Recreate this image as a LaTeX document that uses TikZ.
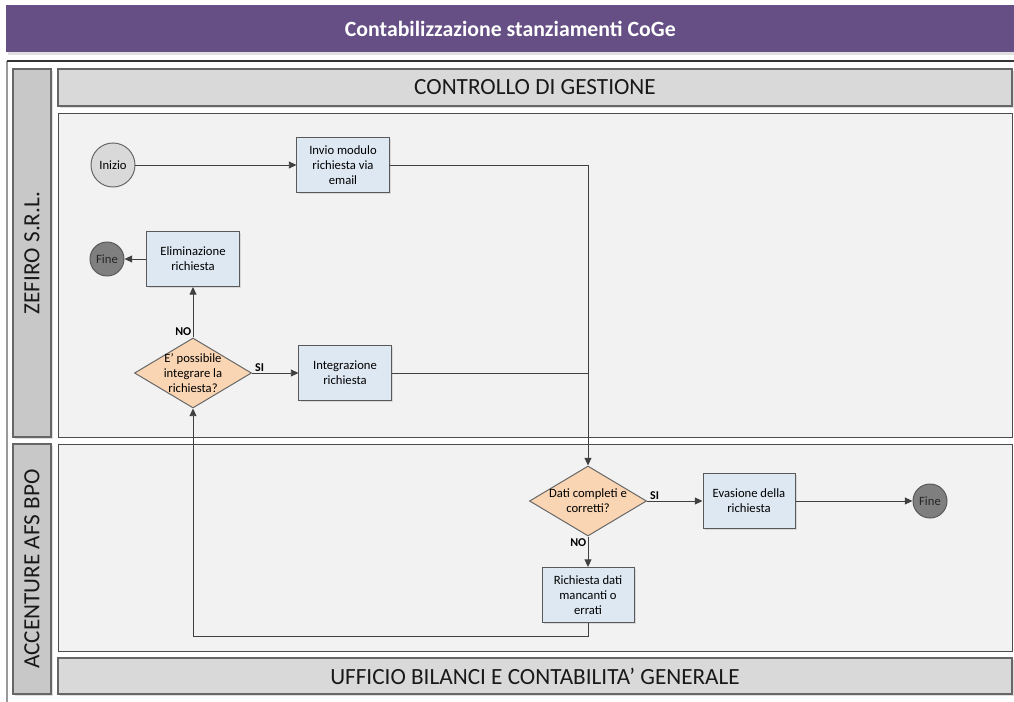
\documentclass[tikz,border=0pt]{standalone}
\usepackage{fontspec}
\setmainfont{Carlito}
\usetikzlibrary{arrows.meta,shapes.geometric,shadows}

\definecolor{titlebar}{HTML}{654F85}
\definecolor{lanehead}{HTML}{C8C8C8}
\definecolor{bandfill}{HTML}{D9D9D9}
\definecolor{lanefill}{HTML}{F2F2F2}
\definecolor{taskfill}{HTML}{DEE8F3}
\definecolor{gatefill}{HTML}{F9D5B4}
\definecolor{endfill}{HTML}{7F7F7F}
\definecolor{linegray}{HTML}{404040}

\begin{document}
\begin{tikzpicture}[x=0.025cm, y=-0.025cm,
    shade box/.style={drop shadow={shadow xshift=1.2pt, shadow yshift=-1.2pt, fill=black!25}},
    lanehdr/.style={fill=lanehead, draw=black!60, line width=1pt, shade box},
    band/.style={fill=bandfill, draw=black!60, line width=1pt, shade box},
    lanebody/.style={fill=lanefill, draw=black!70, line width=0.6pt},
    headtext/.style={font=\fontsize{16.5}{19}\selectfont, text=black!90},
    task/.style={rectangle, fill=taskfill, draw=black!65, line width=0.7pt,
        minimum width=2.3cm, minimum height=1.375cm, inner sep=1pt, align=center,
        font=\fontsize{9}{10.6}\selectfont, shade box},
    gate/.style={diamond, fill=gatefill, draw=black!60, line width=0.7pt,
        minimum width=2.925cm, minimum height=1.75cm, inner sep=0pt},
    gatetext/.style={align=center, font=\fontsize{9}{10.6}\selectfont, inner sep=0pt},
    startev/.style={circle, fill=bandfill, draw=black!60, line width=0.7pt,
        minimum size=1.1cm, inner sep=0pt, font=\fontsize{9}{10.6}\selectfont},
    endev/.style={circle, fill=endfill, draw=black!65, line width=0.7pt,
        minimum size=0.85cm, inner sep=0pt, font=\fontsize{9}{10.6}\selectfont, text=black!85},
    flow/.style={draw=linegray, line width=0.7pt, -{Triangle[length=5.5pt,width=5pt]}},
    line/.style={draw=linegray, line width=0.7pt},
    answer/.style={font=\fontsize{8.5}{10}\selectfont\bfseries, inner sep=1pt}]

    \useasboundingbox[fill=white] (0,0) rectangle (1014,702);

    % title bar
    \fill[black!12] (8,8) rectangle (1014,55);
    \node[fill=titlebar, minimum width=1008*0.025cm, minimum height=47*0.025cm, anchor=north west,
          inner sep=0pt, text=white, font=\fontsize{15.5}{18}\selectfont\bfseries] (title) at (6,5)
          {Contabilizzazione stanziamenti CoGe};

    % pool frame
    \draw[black!40, line width=1pt] (7,702) -- (7,61);
    \draw[black!80, line width=0.8pt] (7,61) -- (1014,61);

    % lanes
    \draw[lanehdr] (13,69) rectangle (51,437);
    \draw[lanehdr] (13,444) rectangle (51,694);
    \draw[band] (58,69) rectangle (1012,106);
    \draw[lanebody] (58,113) rectangle (1012,437);
    \draw[lanebody] (58,444) rectangle (1012,651);
    \draw[band] (58,658) rectangle (1012,694);

    \node[headtext, rotate=90] (lane1) at (32,253) {ZEFIRO S.R.L.};
    \node[headtext, rotate=90] (lane2) at (32,569) {ACCENTURE AFS BPO};
    \node[headtext] (band1) at (535,87) {CONTROLLO DI GESTIONE};
    \node[headtext] (band2) at (535,676) {UFFICIO BILANCI E CONTABILITA’ GENERALE};

    % first lane
    \node[startev] (ini) at (113,165) {Inizio};
    \node[task] (t1) at (343,165) {Invio modulo\\richiesta via\\email};
    \node[endev] (fin1) at (107,259) {Fine};
    \node[task] (t2) at (193,259) {Eliminazione\\richiesta};
    \node[gate] (g1) at (193,373) {};
    \node[gatetext] (g1txt) at (193,373) {E’ possibile\\integrare la\\richiesta?};
    \node[task] (t3) at (345,373) {Integrazione\\richiesta};

    % second lane
    \node[gate] (g2) at (588,501) {};
    \node[gatetext] (g2txt) at (588,501) {Dati completi e\\corretti?};
    \node[task] (t4) at (749,501) {Evasione della\\richiesta};
    \node[endev] (fin2) at (930,501) {Fine};
    \node[task] (t5) at (588,595) {Richiesta dati\\mancanti o\\errati};

    % connectors
    \draw[flow] (ini) -- (t1);
    \draw[flow] (t1.east) -| (g2.north);
    \draw[line] (t3.east) -- (t3.east -| g2.north);
    \draw[flow] (g1.north) -- (t2.south);
    \draw[flow] (t2.west) -- (fin1.east);
    \draw[flow] (g1.east) -- (t3.west);
    \draw[flow] (g2.east) -- (t4.west);
    \draw[flow] (t4.east) -- (fin2.west);
    \draw[flow] (g2.south) -- (t5.north);
    \draw[flow] (t5.south) -- ++(0,13) -| (g1.south);

    \node[answer, anchor=south east] (no1) at (g1.north) {NO};
    \node[answer, anchor=south west] (si1) at ([xshift=1pt]g1.east) {SI};
    \node[answer, anchor=south west] (si2) at ([xshift=1pt]g2.east) {SI};
    \node[answer, anchor=north east] (no2) at (g2.south) {NO};
\end{tikzpicture}
\end{document}
